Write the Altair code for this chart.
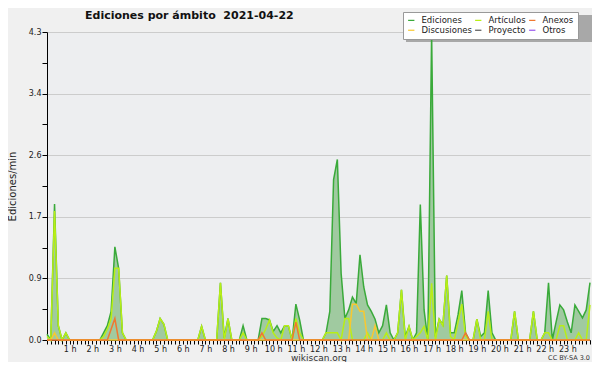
import altair as alt
import pandas as pd

SERIES = ["Ediciones", "Artículos", "Anexos", "Discusiones", "Proyecto", "Otros"]
COLORS = ["#3aaa3a", "#b8ee16", "#f07830", "#f8c830", "#555555", "#9955ee"]
DRAW_ORDER = ["Ediciones", "Artículos", "Discusiones", "Anexos"]

EDICIONES = [
    0.08, 0, 1.9, 0.2, 0, 0.1, 0, 0, 0, 0, 0, 0,
    0, 0, 0, 0.1, 0.2, 0.4, 1.3, 1.0, 0.1, 0, 0, 0,
    0, 0, 0, 0, 0, 0.12, 0.3, 0.22, 0, 0, 0, 0,
    0, 0, 0, 0, 0, 0.19, 0, 0, 0, 0, 0.8, 0.03,
    0.3, 0, 0, 0, 0.2, 0, 0, 0, 0, 0.3, 0.3, 0.28,
    0.12, 0.2, 0.1, 0.2, 0.2, 0, 0.5, 0.28, 0, 0, 0, 0,
    0, 0, 0.1, 0.4, 2.24, 2.52, 0.93, 0.3, 0.42, 0.6, 0.51, 1.19,
    0.74, 0.49, 0.4, 0.29, 0.1, 0.2, 0.49, 0.1, 0, 0.1, 0.7, 0.05,
    0.19, 0, 0.1, 1.89, 0.42, 0, 4.28, 0.05, 0.29, 0.21, 0.9, 0.1,
    0.1, 0.35, 0.69, 0.1, 0, 0, 0.29, 0.05, 0.1, 0.69, 0.1, 0,
    0, 0, 0, 0, 0.4, 0, 0, 0, 0, 0.4, 0, 0,
    0.1, 0.8, 0, 0.25, 0.49, 0.42, 0.25, 0.1, 0.49, 0.4, 0.31, 0.42,
    0.8,
]
ARTICULOS = [
    0.05, 0, 1.8, 0.2, 0, 0.1, 0, 0, 0, 0, 0, 0,
    0, 0, 0, 0.05, 0.15, 0.3, 1.0, 1.0, 0.1, 0, 0, 0,
    0, 0, 0, 0, 0, 0.12, 0.3, 0.22, 0, 0, 0, 0,
    0, 0, 0, 0, 0, 0.19, 0, 0, 0, 0, 0.8, 0,
    0.3, 0, 0, 0, 0.1, 0, 0, 0, 0, 0.05, 0.15, 0.28,
    0.1, 0.03, 0, 0.2, 0.2, 0, 0.3, 0.1, 0, 0, 0, 0,
    0, 0, 0.1, 0.1, 0.1, 0.1, 0, 0.3, 0.3, 0, 0, 0,
    0, 0.1, 0, 0, 0, 0, 0.1, 0, 0, 0.1, 0.7, 0,
    0.19, 0, 0.05, 0.1, 0.19, 0, 0.79, 0, 0.29, 0.2, 0.9, 0.05,
    0, 0.25, 0.5, 0.05, 0, 0, 0.29, 0, 0, 0.4, 0, 0,
    0, 0, 0, 0, 0.4, 0, 0, 0, 0, 0.4, 0, 0,
    0.1, 0.1, 0, 0, 0.2, 0.2, 0, 0, 0, 0.1, 0, 0,
    0.49,
]
DISCUSIONES = [
    0, 0, 0.1, 0, 0, 0, 0, 0, 0, 0, 0, 0,
    0, 0, 0, 0, 0, 0, 0, 0, 0, 0, 0, 0,
    0, 0, 0, 0, 0, 0, 0, 0, 0, 0, 0, 0,
    0, 0, 0, 0, 0, 0, 0, 0, 0, 0, 0, 0,
    0, 0, 0, 0, 0, 0, 0, 0, 0, 0, 0, 0,
    0, 0, 0, 0, 0, 0, 0, 0, 0, 0, 0, 0,
    0, 0, 0, 0, 0, 0, 0, 0, 0, 0.5, 0.5, 0.4,
    0.4, 0, 0, 0.2, 0, 0, 0, 0, 0, 0, 0, 0,
    0, 0, 0, 0, 0, 0, 0, 0, 0, 0, 0, 0,
    0, 0, 0, 0, 0, 0, 0, 0, 0, 0, 0, 0,
    0, 0, 0, 0, 0, 0, 0, 0, 0, 0, 0, 0,
    0, 0, 0, 0, 0, 0, 0, 0, 0, 0, 0, 0,
    0,
]
ANEXOS = [
    0, 0, 0, 0, 0, 0, 0, 0, 0, 0, 0, 0,
    0, 0, 0, 0, 0, 0.15, 0.3, 0, 0, 0, 0, 0,
    0, 0, 0, 0, 0, 0, 0, 0, 0, 0, 0, 0,
    0, 0, 0, 0, 0, 0, 0, 0, 0, 0, 0, 0,
    0, 0, 0, 0, 0, 0, 0, 0, 0, 0.1, 0, 0,
    0, 0, 0, 0, 0, 0, 0.25, 0, 0, 0, 0, 0,
    0, 0, 0, 0, 0, 0, 0, 0, 0, 0, 0, 0,
    0, 0, 0, 0, 0, 0, 0, 0, 0, 0, 0, 0,
    0, 0, 0, 0, 0, 0, 0, 0, 0, 0, 0, 0,
    0, 0, 0, 0.1, 0, 0, 0, 0, 0, 0, 0, 0,
    0, 0, 0, 0, 0, 0, 0, 0, 0, 0, 0, 0,
    0, 0, 0, 0, 0, 0, 0, 0, 0, 0, 0, 0,
    0,
]
Y_TICKS = [0, 0.43, 0.86, 1.29, 1.72, 2.15, 2.58, 3.01, 3.44, 3.87, 4.3]
X_TICKS = list(range(0, 1441, 10))

TITLE = "Ediciones por ámbito\u00a0 2021-04-22"
FOOTER = "CC BY-SA 3.0"
FONT = "DejaVu Sans"

values = {"Ediciones": EDICIONES, "Artículos": ARTICULOS,
          "Discusiones": DISCUSIONES, "Anexos": ANEXOS}
minutes = [10 * i for i in range(len(EDICIONES))]

rows = []
for s in DRAW_ORDER:
    for m, v in zip(minutes, values[s]):
        rows.append({"min": m, "v": v, "serie": s})
df = pd.DataFrame(rows)

x_enc = alt.X(
    "min:Q",
    scale=alt.Scale(domain=[0, 1440], nice=False, zero=False),
    axis=alt.Axis(
        values=X_TICKS,
        labelExpr="datum.value % 60 == 0 && datum.value > 0 && datum.value < 1440 ? (datum.value / 60) + ' h' : ''",
        labelOverlap=False,
        labelFont=FONT, labelFontSize=8, labelColor="#222222", labelPadding=1,
        tickSize=4, tickColor="black", domainColor="black", grid=False,
        title="wikiscan.org", titleFont=FONT, titleFontSize=9,
        titleFontWeight="normal", titleColor="#333333", titlePadding=0,
    ),
)
major_test = "round(datum.value * 100) % 86 == 0"
y_enc = alt.Y(
    "v:Q",
    scale=alt.Scale(domain=[0, 4.3], nice=False),
    axis=alt.Axis(
        values=Y_TICKS,
        labelExpr=f"{major_test} ? format(datum.value, '.1f') : ''",
        labelFont=FONT, labelFontSize=8, labelColor="#222222", labelPadding=1,
        tickSize=5, tickColor="black", domainColor="black",
        grid=True, gridColor="#cccccc",
        gridOpacity={"condition": {"test": major_test, "value": 1}, "value": 0},
        title="Ediciones/min", titleFont=FONT, titleFontSize=10,
        titleFontWeight="normal", titleColor="#222222", titlePadding=11,
    ),
)

color_scale = alt.Scale(domain=SERIES, range=COLORS)
legend = alt.Legend(
    orient="none", legendX=356, legendY=-20, columns=3, direction="horizontal",
    title=None, symbolType="stroke", symbolSize=40, symbolStrokeWidth=1.2,
    labelFont=FONT, labelFontSize=8.5, labelColor="#222222", labelOffset=6,
    fillColor="white", strokeColor="#999999", padding=4,
    columnPadding=0, rowPadding=1,
)

shadow = alt.Chart(pd.DataFrame({"a": [0]})).mark_rect(color="#a8a8a8").encode(
    x=alt.value(359), x2=alt.value(549), y=alt.value(-17), y2=alt.value(10)
)

area = alt.Chart(df[df.serie == "Ediciones"]).mark_area(
    color="#a0caa0", opacity=1
).encode(x=x_enc, y=y_enc)

lines = []
for s in DRAW_ORDER:
    lines.append(
        alt.Chart(df[df.serie == s]).mark_line(strokeWidth=1.5).encode(
            x=x_enc, y=y_enc,
            color=alt.Color("serie:N", scale=color_scale, legend=legend),
        )
    )

text_df = pd.DataFrame({"t": [TITLE]})
title_mark = alt.Chart(text_df).mark_text(
    align="left", baseline="alphabetic", font=FONT, fontSize=11,
    fontWeight="bold", color="#111111"
).encode(x=alt.value(38), y=alt.value(-13), text="t:N")

footer = alt.Chart(pd.DataFrame({"t": [FOOTER]})).mark_text(
    align="right", baseline="middle", font=FONT, fontSize=6.5, color="#333333"
).encode(x=alt.value(543), y=alt.value(326), text="t:N")

chart = alt.layer(shadow, area, *lines, title_mark, footer).properties(
    width=543, height=308,
    autosize=alt.AutoSizeParams(type="none"),
    padding={"left": 39, "top": 24, "right": 2, "bottom": 22},
).configure(background="#f0f0f0").configure_view(stroke=None, fill="#edeef0")

chart.save("out.html", embed_options={"renderer": "svg", "actions": False})
